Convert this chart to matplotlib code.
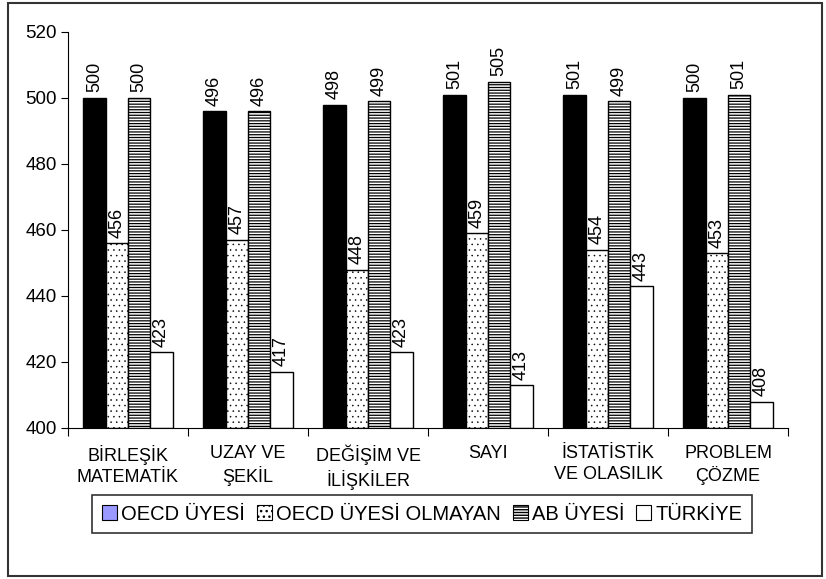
import matplotlib
matplotlib.use("Agg")
import matplotlib.pyplot as plt
from matplotlib.patches import Patch, Rectangle

plt.rcParams['font.family'] = ['Liberation Sans', 'DejaVu Sans']

# veri
kategoriler = ["BİRLEŞİK\nMATEMATİK", "UZAY VE\nŞEKİL", "DEĞİŞİM VE\nİLİŞKİLER",
               "SAYI", "İSTATİSTİK\nVE OLASILIK", "PROBLEM\nÇÖZME"]
seri_adlari = ["OECD ÜYESİ", "OECD ÜYESİ OLMAYAN", "AB ÜYESİ", "TÜRKİYE"]
oecd_uyesi = [500, 496, 498, 501, 501, 500]
oecd_disi = [456, 457, 448, 459, 454, 453]
ab_uyesi = [500, 496, 499, 505, 499, 501]
turkiye = [423, 417, 423, 413, 443, 408]
y_ticks = [400, 420, 440, 460, 480, 500, 520]

seriler = [oecd_uyesi, oecd_disi, ab_uyesi, turkiye]
renkler = ["black", "white", "white", "white"]
taramalar = [None, "...", "------", None]
tarama_kalinlik = [0.9, 0.35, 0.9, 0.9]

fig = plt.figure(figsize=(8.26, 5.79), dpi=100)
ax = fig.add_axes([68/826, 1 - 428/579, (788-68)/826, (428-32)/579])

w = 0.186
ofs = (1 - 4*w) / 2
for j, (s, c, h, hl) in enumerate(zip(seriler, renkler, taramalar, tarama_kalinlik)):
    xs = [i + ofs + j*w for i in range(len(s))]
    with plt.rc_context({"hatch.linewidth": hl}):
        ax.bar(xs, [v - 400 for v in s], bottom=400, width=w, align="edge",
               color=c, edgecolor="black", hatch=h, linewidth=1.0)
    for x, v in zip(xs, s):
        ax.annotate(str(v), (x + w/2, v), xytext=(0, 4), textcoords="offset points",
                    rotation=90, ha="center", va="bottom", fontsize=13)

ax.set_xlim(0, 6)
ax.set_ylim(400, 520)
ax.set_yticks(y_ticks)
ax.set_xticks(range(7))
ax.set_xticklabels([])
ax.set_xticks([i + 0.5 for i in range(6)], minor=True)
ax.set_xticklabels(kategoriler, minor=True, fontsize=13, linespacing=1.3)
ax.tick_params(axis="x", which="minor", length=0, pad=12)
ax.tick_params(axis="x", which="major", length=6, width=0.8, direction="out")
ax.tick_params(axis="y", length=5, width=0.8, labelsize=13.5, pad=3)
ax.spines["top"].set_visible(False)
ax.spines["right"].set_visible(False)
ax.spines["left"].set_linewidth(0.8)
ax.spines["bottom"].set_linewidth(0.8)

# legend
handles = []
for fc, h, hl in zip(["#9999FF", "white", "white", "white"], taramalar, tarama_kalinlik):
    with plt.rc_context({"hatch.linewidth": hl}):
        handles.append(Patch(facecolor=fc, edgecolor="black", hatch=h, linewidth=0.8))
leg = fig.legend(handles, seri_adlari, loc="center", bbox_to_anchor=(422/826, 1 - 514/579),
                 ncol=4, fontsize=14.5, frameon=True, fancybox=False, shadow=False,
                 handlelength=0.75, handleheight=0.75, handletextpad=0.2, columnspacing=0.6,
                 borderpad=0.45, borderaxespad=0)
leg.get_frame().set_edgecolor("black")
leg.get_frame().set_linewidth(1.2)

# dis cerceve
fig.add_artist(Rectangle((8/826, 3/579), (822-8)/826, (576-3)/579, fill=False,
                         transform=fig.transFigure, linewidth=1.5, edgecolor="#333333"))

fig.savefig("out.png", dpi=100)
